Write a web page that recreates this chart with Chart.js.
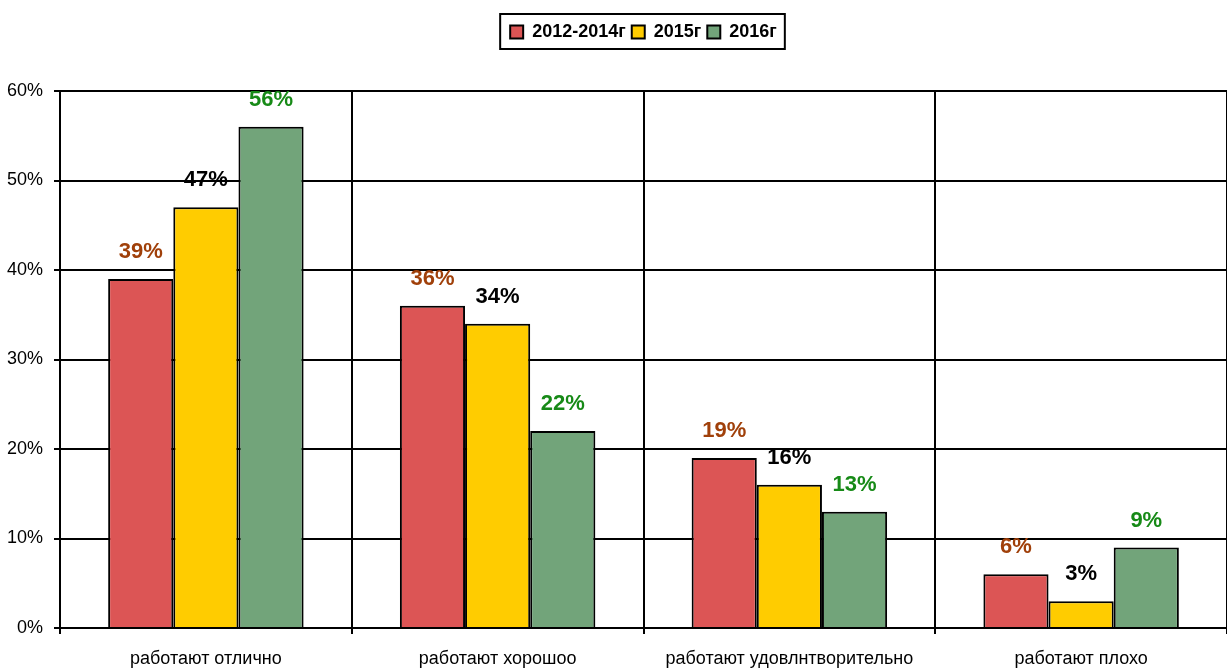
<!DOCTYPE html>
<html>
<head>
<meta charset="utf-8">
<script src="https://cdn.jsdelivr.net/npm/chart.js@4.4.1/dist/chart.umd.min.js"></script>
<style>
  html, body { margin: 0; padding: 0; background: #fff; }
  #wrap { width: 1227px; height: 670px; }
</style>
</head>
<body>
<div id="wrap"><canvas id="chart" width="1227" height="670"></canvas></div>
<script>
// Chart data
const categories = ['работают отлично', 'работают хорошоо', 'работают удовлнтворительно', 'работают плохо'];
const seriesNames = ['2012-2014г', '2015г', '2016г'];
const values2012 = [39, 36, 19, 6];
const values2015 = [47, 34, 16, 3];
const values2016 = [56, 22, 13, 9];
const yTicks = [0, 10, 20, 30, 40, 50, 60];

const fillColors = ['#DC5555', '#FFCC00', '#72A47A'];
const labelColors = ['#A0400A', '#000000', '#178A17'];
const narrow = '"Liberation Sans Narrow", "Arial Narrow", "Liberation Sans", Arial, sans-serif';

// Value labels above bars
const valueLabels = {
  id: 'valueLabels',
  afterDatasetsDraw(chart) {
    const ctx = chart.ctx;
    ctx.save();
    ctx.font = 'bold 22px ' + narrow;
    ctx.textAlign = 'center';
    ctx.textBaseline = 'middle';
    chart.data.datasets.forEach((ds, i) => {
      chart.getDatasetMeta(i).data.forEach((bar, j) => {
        ctx.fillStyle = labelColors[i];
        ctx.fillText(ds.data[j] + '%', bar.x, bar.y - 27);
      });
    });
    ctx.restore();
  }
};

// Taller legend block, centred over the plot area, with a box round the items
const legendBox = {
  id: 'legendBox',
  afterInit(chart) {
    const lg = chart.legend;
    const fit = lg.fit;
    lg.fit = function() {
      fit.call(this);
      this.height = 74;
    };
  },
  afterLayout(chart) {
    chart.legend.left = chart.chartArea.left;
  },
  afterDraw(chart) {
    const items = chart.legend.legendHitBoxes;
    if (!items.length) return;
    const left = items[0].left - 10;
    const last = items[items.length - 1];
    const right = last.left + last.width + 8;
    const top = items[0].top + items[0].height / 2 - 18;
    const ctx = chart.ctx;
    ctx.save();
    ctx.strokeStyle = '#000';
    ctx.lineWidth = 2;
    ctx.strokeRect(left, top, right - left, 35);
    ctx.restore();
  }
};

new Chart(document.getElementById('chart'), {
  type: 'bar',
  data: {
    labels: categories,
    datasets: [
      { label: seriesNames[0], data: values2012, backgroundColor: fillColors[0] },
      { label: seriesNames[1], data: values2015, backgroundColor: fillColors[1] },
      { label: seriesNames[2], data: values2016, backgroundColor: fillColors[2] }
    ].map(d => Object.assign(d, { borderColor: '#000', borderWidth: 2, categoryPercentage: 0.67, barPercentage: 1 }))
  },
  options: {
    responsive: false,
    animation: false,
    layout: { padding: { top: 17, right: 0, bottom: 0, left: 0 } },
    plugins: {
      tooltip: { enabled: false },
      legend: {
        position: 'top',
        labels: {
          boxWidth: 13,
          boxHeight: 13,
          padding: 6,
          color: '#000',
          font: { family: narrow, size: 18, weight: 'bold' },
          generateLabels(chart) {
            return chart.data.datasets.map((ds, i) => ({
              text: ds.label,
              fillStyle: fillColors[i],
              strokeStyle: '#000',
              lineWidth: 2,
              datasetIndex: i
            }));
          }
        }
      }
    },
    scales: {
      x: {
        grid: { offset: true, color: '#000', lineWidth: 2, tickLength: 6, drawTicks: true },
        border: { color: '#000', width: 2 },
        ticks: { color: '#000', font: { family: 'Liberation Sans, Arial, sans-serif', size: 18 }, padding: 14, maxRotation: 0 },
        afterFit(scale) { scale.height = 42; }
      },
      y: {
        min: 0,
        max: 60,
        afterBuildTicks(scale) { scale.ticks = yTicks.map(v => ({ value: v })); },
        grid: { color: '#000', lineWidth: 2, tickLength: 6 },
        border: { color: '#000', width: 2 },
        ticks: { color: '#000', font: { family: 'Liberation Sans, Arial, sans-serif', size: 18 }, padding: 11, callback: v => v + '%' },
        afterFit(scale) { scale.width = 60; }
      }
    }
  },
  plugins: [valueLabels, legendBox]
});
</script>
</body>
</html>
